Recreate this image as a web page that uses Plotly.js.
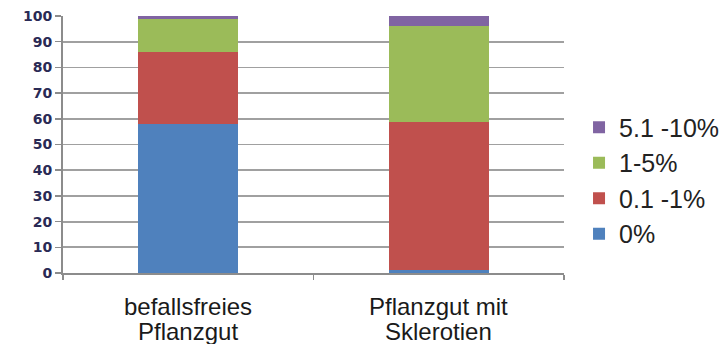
<!DOCTYPE html>
<html>
<head>
<meta charset="utf-8">
<script src="https://cdn.plot.ly/plotly-3.0.1.min.js"></script>
<style>
  html, body { margin: 0; padding: 0; background: #fff; }
  #chart { width: 721px; height: 344px; }
</style>
</head>
<body>
<div id="chart"></div>
<script>
// Categories: each label split into its two display lines
const categoryLines = [
  ["befallsfreies", "Pflanzgut"],
  ["Pflanzgut mit", "Sklerotien"]
];
const categories = categoryLines.map(l => l.join(" "));

// Share of plants per infestation class (%)
const seriesNames = ["0%", "0.1 -1%", "1-5%", "5.1 -10%"];
const share0 = [58, 1.3];
const share01to1 = [28, 57.5];
const share1to5 = [13, 37.3];
const share5to10 = [1, 3.9];
const seriesValues = [share0, share01to1, share1to5, share5to10];
const seriesColors = ["#4F81BD", "#C0504D", "#9BBB59", "#8064A2"];

const yTicks = [0, 10, 20, 30, 40, 50, 60, 70, 80, 90, 100];

// Stacked from bottom to top; legend lists the top class first
const traces = seriesNames.map((name, i) => ({
  type: "bar",
  name: name,
  x: categories,
  y: seriesValues[i],
  marker: { color: seriesColors[i], line: { width: 0 } },
  legendgroup: "g" + i,
  legendrank: seriesNames.length - i,
  hoverinfo: "skip"
}));

// Two-line category labels, one annotation per line
const annotations = [];
categoryLines.forEach((lines, ci) => {
  lines.forEach((txt, li) => {
    annotations.push({
      x: categories[ci], xref: "x",
      y: 0, yref: "paper",
      yanchor: "middle", xanchor: "center",
      yshift: -33 - 25 * li,
      text: txt, showarrow: false,
      font: { family: "Liberation Sans, Arial, sans-serif", size: 24, color: "#1a1a1a" }
    });
  });
});

const layout = {
  width: 721, height: 344,
  margin: { l: 63, r: 157, t: 16, b: 71, pad: 0, autoexpand: false },
  paper_bgcolor: "#ffffff",
  plot_bgcolor: "#ffffff",
  barmode: "stack",
  bargap: 0.6,
  showlegend: true,
  legend: {
    x: 1.030, xanchor: "left",
    y: 0.36, yanchor: "middle",
    traceorder: "grouped",
    tracegroupgap: 0,
    font: { family: "Liberation Sans, Arial, sans-serif", size: 25, color: "#222222" },
    bgcolor: "rgba(0,0,0,0)"
  },
  xaxis: {
    type: "category",
    showticklabels: false,
    ticks: "outside", tickson: "boundaries",
    ticklen: 5, tickwidth: 1.5, tickcolor: "#8c8c8c",
    showline: true, linecolor: "#8c8c8c", linewidth: 2,
    showgrid: false, zeroline: false,
    fixedrange: true
  },
  yaxis: {
    range: [0, 100],
    tickvals: yTicks,
    ticktext: yTicks.map(String),
    ticks: "outside", ticklen: 6, tickwidth: 1.5, tickcolor: "#8c8c8c",
    showline: true, linecolor: "#8c8c8c", linewidth: 2,
    showgrid: true, gridcolor: "#a0a0a0", gridwidth: 1.8,
    zeroline: false,
    tickfont: { family: "DejaVu Sans", size: 14, color: "#2a2a55", weight: "bold" },
    fixedrange: true
  },
  annotations: annotations
};

Plotly.newPlot("chart", traces, layout, { displayModeBar: false, staticPlot: true });
</script>
</body>
</html>
